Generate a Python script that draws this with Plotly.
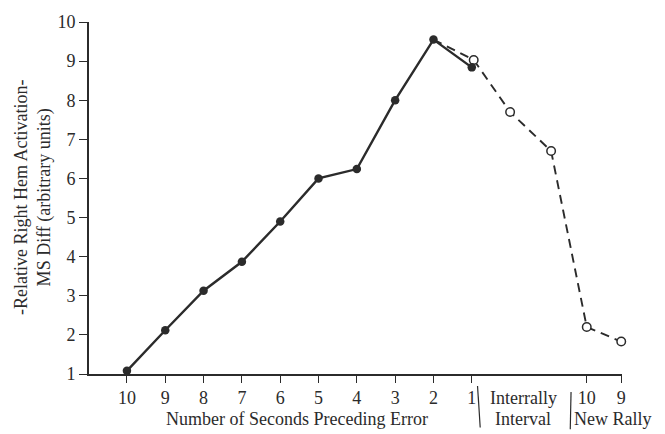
import plotly.graph_objects as go

# Positions along the x axis (0..9 = seconds 10..1 before error; then interrally; then new rally)
solid_pos = [0, 1, 2, 3, 4, 5, 6, 7, 8, 9]
solid_vals = [1.08, 2.12, 3.13, 3.87, 4.9, 6.0, 6.24, 8.0, 9.55, 8.84]

dashed_pos = [8, 9.05, 10.0, 11.07, 12.0, 12.9]
dashed_vals = [9.55, 9.03, 7.7, 6.7, 2.2, 1.83]

tick_pos = [0, 1, 2, 3, 4, 5, 6, 7, 8, 9, 12, 12.9]
tick_labels = ["10", "9", "8", "7", "6", "5", "4", "3", "2", "1", "10", "9"]
y_ticks = [1, 2, 3, 4, 5, 6, 7, 8, 9, 10]

FONT = "Liberation Serif"
INK = "#2b2b2b"

fig = go.Figure()

fig.add_trace(go.Scatter(
    x=dashed_pos, y=dashed_vals, mode="lines",
    line=dict(color=INK, width=1.9, dash="9px,6px"),
    hoverinfo="skip", showlegend=False, cliponaxis=False))
fig.add_trace(go.Scatter(
    x=dashed_pos[1:], y=dashed_vals[1:], mode="markers",
    marker=dict(symbol="circle", size=8.5, color="white",
                line=dict(color=INK, width=1.5)),
    showlegend=False, cliponaxis=False))
fig.add_trace(go.Scatter(
    x=solid_pos, y=solid_vals, mode="lines+markers",
    line=dict(color=INK, width=2.4),
    marker=dict(symbol="circle", size=8.5, color=INK),
    showlegend=False, cliponaxis=False))

fig.update_layout(
    width=665, height=434,
    margin=dict(l=89, r=43, t=18, b=60),
    paper_bgcolor="white", plot_bgcolor="white",
    font=dict(family=FONT, size=18, color=INK),
    xaxis=dict(range=[-0.99, 12.92], tickmode="array", tickvals=tick_pos,
               ticktext=tick_labels, ticks="outside", ticklen=7, tickwidth=1.2,
               tickcolor=INK, showline=True, linecolor=INK, linewidth=1.6,
               showgrid=False, zeroline=False, tickangle=0,
               tickfont=dict(family=FONT, size=18, color=INK)),
    yaxis=dict(range=[1, 10], tickmode="array", tickvals=y_ticks,
               ticks="outside", ticklen=8, tickwidth=1.2, tickcolor=INK,
               showline=True, linecolor=INK, linewidth=1.6,
               showgrid=False, zeroline=False,
               tickfont=dict(family=FONT, size=18, color=INK)),
    shapes=[
        dict(type="line", xref="x", yref="paper", x0=9.15, y0=-0.034, x1=9.22, y1=-0.152,
             line=dict(color=INK, width=1.2)),
        dict(type="line", xref="x", yref="paper", x0=11.59, y0=-0.051, x1=11.57, y1=-0.157,
             line=dict(color=INK, width=1.2)),
    ],
    annotations=[
        dict(text="Number of Seconds Preceding Error", xref="x", yref="paper",
             x=4.44, y=-0.129, xanchor="center", yanchor="middle", showarrow=False),
        dict(text="Interrally", xref="x", yref="paper",
             x=10.34, y=-0.067, xanchor="center", yanchor="middle", showarrow=False),
        dict(text="Interval", xref="x", yref="paper",
             x=10.34, y=-0.129, xanchor="center", yanchor="middle", showarrow=False),
        dict(text="New Rally", xref="x", yref="paper",
             x=12.66, y=-0.129, xanchor="center", yanchor="middle", showarrow=False),
        dict(text="-Relative Right Hem Activation-<br>MS Diff (arbitrary units)",
             xref="paper", yref="paper", x=-0.105, y=0.5, textangle=-90,
             xanchor="center", yanchor="middle", showarrow=False,
             font=dict(family=FONT, size=18, color=INK)),
    ],
)

fig.write_html("out.html")
